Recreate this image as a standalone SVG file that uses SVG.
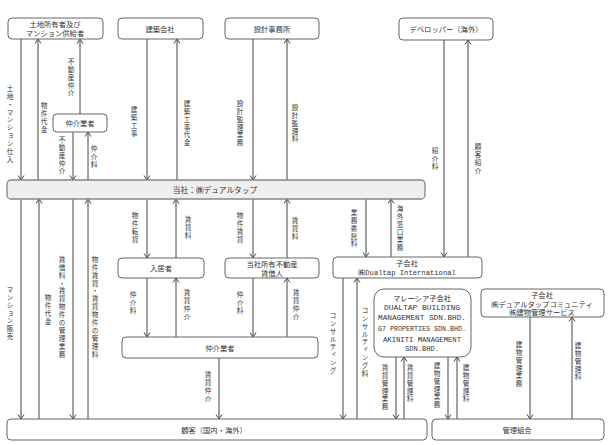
<svg xmlns="http://www.w3.org/2000/svg" width="608" height="445" viewBox="0 0 608 445">
<style>
text{font-family:"Noto Sans CJK JP","Noto Sans",sans-serif;fill:#333;}
.b{fill:#fff;stroke:#666;stroke-width:1;}
.t{font-size:7.3px;text-anchor:middle;dominant-baseline:central;}
.m{font-family:"Liberation Mono","Noto Sans CJK JP",monospace;font-size:7.5px;text-anchor:middle;dominant-baseline:central;}
.v{font-size:6.6px;writing-mode:vertical-rl;letter-spacing:1.3px;}
#conn line{stroke:#444;stroke-width:1;fill:none;}
#conn line.ar{marker-end:url(#ah);}
</style>
<defs>
<marker id="ah" viewBox="0 0 6 8" refX="5" refY="4" markerWidth="6" markerHeight="8" orient="auto" markerUnits="userSpaceOnUse">
<path d="M0.5,1 L5,4 L0.5,7" fill="none" stroke="#444" stroke-width="1"/>
</marker>
</defs>
<rect width="608" height="445" fill="#fff"/>

<g id="conn">
<line class="ar" x1="21" y1="39" x2="21" y2="180"/>
<line class="ar" x1="38" y1="180" x2="38" y2="39"/>
<line class="ar" x1="80" y1="114" x2="80" y2="39"/>
<line class="ar" x1="73" y1="132" x2="73" y2="180"/>
<line class="ar" x1="88" y1="180" x2="88" y2="132"/>
<line class="ar" x1="147" y1="39" x2="147" y2="180"/>
<line class="ar" x1="177" y1="180" x2="177" y2="39"/>
<line class="ar" x1="253" y1="39" x2="253" y2="180"/>
<line class="ar" x1="287" y1="180" x2="287" y2="39"/>
<line class="ar" x1="444" y1="40" x2="444" y2="257"/>
<line class="ar" x1="468" y1="257" x2="468" y2="40"/>
<line class="ar" x1="21" y1="199" x2="21" y2="419"/>
<line class="ar" x1="39" y1="419" x2="39" y2="199"/>
<line class="ar" x1="73" y1="199" x2="73" y2="419"/>
<line class="ar" x1="88" y1="419" x2="88" y2="199"/>
<line class="ar" x1="147" y1="199" x2="147" y2="258"/>
<line class="ar" x1="176" y1="258" x2="176" y2="199"/>
<line class="ar" x1="253" y1="199" x2="253" y2="258"/>
<line class="ar" x1="287" y1="258" x2="287" y2="199"/>
<line class="ar" x1="366" y1="199" x2="366" y2="257"/>
<line class="ar" x1="391" y1="257" x2="391" y2="199"/>
<line class="ar" x1="147" y1="278" x2="147" y2="337"/>
<line class="ar" x1="176" y1="337" x2="176" y2="278"/>
<line class="ar" x1="253" y1="278" x2="253" y2="337"/>
<line class="ar" x1="287" y1="337" x2="287" y2="278"/>
<line class="ar" x1="219" y1="358" x2="219" y2="419"/>
<line class="ar" x1="343" y1="278" x2="343" y2="419"/>
<line class="ar" x1="357" y1="419" x2="357" y2="278"/>
<line class="ar" x1="396" y1="357" x2="396" y2="419"/>
<line class="ar" x1="404" y1="419" x2="404" y2="357"/>
<line class="ar" x1="448" y1="357" x2="448" y2="419"/>
<line class="ar" x1="457" y1="419" x2="457" y2="357"/>
<line class="ar" x1="530" y1="317" x2="530" y2="419"/>
<line class="ar" x1="572" y1="419" x2="572" y2="317"/>
</g>

<g id="labels">
<text class="v" x="10" y="85">土地・マンション仕入</text>
<text class="v" x="44" y="102">物件代金</text>
<text class="v" x="71" y="58">不動産仲介</text>
<text class="v" x="62" y="136">不動産仲介</text>
<text class="v" x="94" y="145">仲介料</text>
<text class="v" x="134" y="106">建築工事</text>
<text class="v" x="187" y="100">建築工事代金</text>
<text class="v" x="240" y="100">設計監理業務</text>
<text class="v" x="295" y="104">設計監理料</text>
<text class="v" x="435" y="147">紹介料</text>
<text class="v" x="478" y="143">顧客紹介</text>
<text class="v" x="135" y="212">物件転貸</text>
<text class="v" x="188" y="216">賃貸料</text>
<text class="v" x="240" y="212">物件賃貸</text>
<text class="v" x="295" y="217">賃貸料</text>
<text class="v" x="354" y="209">業務委託料</text>
<text class="v" x="400" y="205">海外窓口業務</text>
<text class="v" x="10" y="286">マンション販売</text>
<text class="v" x="48" y="294">物件代金</text>
<text class="v" x="62" y="256">賃借料・賃貸物件の管理業務</text>
<text class="v" x="95" y="256">物件賃貸・賃貸物件の管理料</text>
<text class="v" x="133" y="291">仲介料</text>
<text class="v" x="187" y="289">賃貸仲介</text>
<text class="v" x="240" y="291">仲介料</text>
<text class="v" x="296" y="289">賃貸仲介</text>
<text class="v" x="208" y="371">賃貸仲介</text>
<text class="v" x="333" y="312">コンサルティング</text>
<text class="v" x="365" y="307">コンサルティング料</text>
<text class="v" x="385" y="364">賃貸管理業務</text>
<text class="v" x="410" y="364">賃貸管理料</text>
<text class="v" x="437" y="362">建物管理業務</text>
<text class="v" x="466" y="364">建物管理料</text>
<text class="v" x="519" y="341">建物管理業務</text>
<text class="v" x="578" y="342">建物管理料</text>
</g>

<g id="n-landowner">
<rect class="b" x="8" y="18" width="95" height="21" rx="4"/>
<text class="t" x="55" y="23.5">土地所有者及び</text>
<text class="t" x="55" y="33">マンション供給者</text>
</g>
<g id="n-construction">
<rect class="b" x="118" y="18" width="85" height="21" rx="4"/>
<text class="t" x="160" y="28.5">建築会社</text>
</g>
<g id="n-design">
<rect class="b" x="225" y="18" width="94" height="21" rx="4"/>
<text class="t" x="272" y="28.5">設計事務所</text>
</g>
<g id="n-developer">
<rect class="b" x="399" y="18" width="94" height="22" rx="4"/>
<text class="t" x="446" y="29">デベロッパー（海外）</text>
</g>
<g id="n-broker-small">
<rect class="b" x="53" y="114" width="54" height="18" rx="4"/>
<text class="t" x="80" y="123">仲介業者</text>
</g>
<g id="n-dualtap">
<rect x="7" y="180" width="418" height="19" rx="4" fill="#efefef" stroke="#888" stroke-width="1.3"/>
<text class="t" x="215" y="189.5" style="font-size:7.7px">当社：㈱デュアルタップ</text>
</g>
<g id="n-tenant">
<rect class="b" x="118" y="258" width="86" height="20" rx="4"/>
<text class="t" x="161" y="268">入居者</text>
</g>
<g id="n-lessee">
<rect class="b" x="225" y="258" width="94" height="20" rx="4"/>
<text class="t" x="272" y="263.5">当社所有不動産</text>
<text class="t" x="272" y="273">賃借人</text>
</g>
<g id="n-intl">
<rect class="b" x="333" y="257" width="149" height="21" rx="4"/>
<text class="t" x="407" y="263">子会社</text>
<text class="m" x="407" y="272.5" style="font-size:7.2px">㈱Dualtap International</text>
</g>
<g id="n-broker">
<rect class="b" x="122" y="337" width="196" height="21" rx="4"/>
<text class="t" x="220" y="347.5">仲介業者</text>
</g>
<g id="n-malaysia">
<rect class="b" x="374" y="289" width="97" height="68" rx="10"/>
<text class="t" x="422" y="298">マレーシア子会社</text>
<text class="m" x="422" y="308" textLength="76" lengthAdjust="spacingAndGlyphs">DUALTAP BUILDING</text>
<text class="m" x="422" y="318" textLength="88" lengthAdjust="spacingAndGlyphs">MANAGEMENT SDN.BHD.</text>
<text class="m" x="422" y="329" textLength="88" lengthAdjust="spacingAndGlyphs">G7 PROPERTIES SDN.BHD.</text>
<text class="m" x="422" y="339.5" textLength="78" lengthAdjust="spacingAndGlyphs">AKINITI MANAGEMENT</text>
<text class="m" x="422" y="349" textLength="34" lengthAdjust="spacingAndGlyphs">SDN.BHD.</text>
</g>
<g id="n-community">
<rect class="b" x="481" y="289" width="123" height="28" rx="4"/>
<text class="t" x="542" y="294.5">子会社</text>
<text class="t" x="542" y="303.5">㈱デュアルタップコミュニティ</text>
<text class="t" x="542" y="312">㈱建物管理サービス</text>
</g>
<g id="n-customer">
<rect class="b" x="7" y="419" width="420" height="21" rx="4"/>
<text class="t" x="214" y="430">顧客（国内・海外）</text>
</g>
<g id="n-association">
<rect class="b" x="432" y="419" width="172" height="21" rx="4"/>
<text class="t" x="517" y="430">管理組合</text>
</g>
</svg>
